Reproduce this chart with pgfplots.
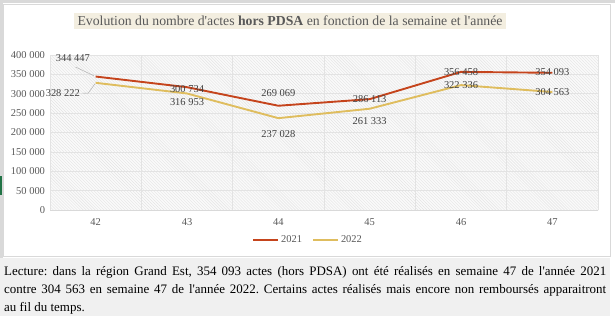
\documentclass[border=0pt]{standalone}
\usepackage{fontspec}
\setmainfont{Liberation Serif}[Ligatures=TeXOff]
\usepackage{pgfplots}
\pgfplotsset{compat=1.18}
\usetikzlibrary{patterns}
\definecolor{c21}{HTML}{C5441C}
\definecolor{c22}{HTML}{DFBD5E}
\definecolor{txt}{HTML}{595959}
\definecolor{lbltxt}{HTML}{404040}
\definecolor{beige}{HTML}{F3EEE0}
\definecolor{capbg}{HTML}{F0F0F0}
\definecolor{frame}{HTML}{D9D9D9}
\definecolor{xlgreen}{HTML}{217346}
\begin{document}
\frenchspacing
\begin{tikzpicture}
\begin{scope}[x=1bp,y=-1bp]
\fill[white] (0,0) rectangle (615,321);
\fill[frame] (0,0) rectangle (615,3);
\fill[frame] (0,0) rectangle (3,258);
\fill[capbg] (0,258) rectangle (610,316);
\draw[frame, line width=0.8bp] (3.5,4.5) rectangle (610,256);
\fill[xlgreen] (0,176) rectangle (2,195);
\node[fill=beige, text=txt, font=\fontsize{13.8}{15}\selectfont, inner xsep=4bp, inner ysep=3bp] at (290,21) {Evolution du nombre d'actes \textbf{hors PDSA} en fonction de la semaine et l'année};
\node[anchor=north west, text width=602bp, align=justify, inner sep=0pt, font=\fontsize{13}{18}\selectfont] at (4,266) {Lecture: dans la région Grand Est, 354 093 actes (hors PDSA) ont été réalisés en semaine 47 de l'année 2021\linebreak contre 304 563 en semaine 47 de l'année 2022. Certains actes réalisés mais encore non remboursés apparaitront\linebreak au fil du temps.};
\end{scope}
\begin{axis}[
  at={(50bp,-210bp)}, anchor=south west,
  scale only axis, width=548bp, height=155bp,
  xmin=-0.5, xmax=5.5, ymin=0, ymax=400000,
  xtick={0,1,2,3,4,5}, xticklabels={42,43,44,45,46,47},
  minor xtick={-0.5,0.5,1.5,2.5,3.5,4.5,5.5},
  ytick={0,50000,...,400000},
  ymajorgrids, xminorgrids,
  major grid style={draw=gray!22, line width=0.6bp},
  minor grid style={draw=gray!22, line width=0.6bp},
  axis x line=bottom, axis y line=left,
  axis line style={-},
  y axis line style={draw=none},
  x axis line style={draw=frame, line width=0.8bp},
  major tick length=0pt, minor tick length=0pt,
  tick label style={text=txt, font=\fontsize{10.5}{12}\selectfont},
  xticklabel style={yshift=-5bp},
  yticklabel style={xshift=-1.5bp},
  scaled y ticks=false,
  /pgf/number format/.cd, fixed, 1000 sep={\ }, assume math mode=true, /pgfplots/.cd,
  axis background/.style={fill=gray!4, postaction={pattern=north west lines, pattern color=gray!22}},
  clip=false,
  legend style={at={(0.471,-0.194)}, anchor=center, draw=none, fill=none,
    legend columns=2, font=\fontsize{10.5}{12}\selectfont, text=txt,
    /tikz/every even column/.append style={column sep=8bp}},
  legend image code/.code={\draw[#1] (0bp,0bp) -- (25bp,0bp);},
  every axis plot/.append style={line width=1.9bp},
]
\addplot[c21, no marks] coordinates {(0,344447) (1,316953) (2,269069) (3,286113) (4,356458) (5,354093)};
\addlegendentry{2021}
\addplot[c22, no marks] coordinates {(0,328222) (1,300734) (2,237028) (3,261333) (4,322336) (5,304563)};
\addlegendentry{2022}
\begin{scope}[every node/.style={text=lbltxt, font=\fontsize{10.5}{12}\selectfont, inner sep=1pt}]
\node at (axis cs:-0.25,392258) {344 447};
\node at (axis cs:-0.36,301935) {328 222};
\node at (axis cs:1,312258) {300 734};
\node at (axis cs:1,279500) {316 953};
\node at (axis cs:2,302710) {269 069};
\node at (axis cs:2,196129) {237 028};
\node at (axis cs:3,285677) {286 113};
\node at (axis cs:3,229677) {261 333};
\node at (axis cs:4,355355) {356 458};
\node at (axis cs:4,322581) {322 336};
\node at (axis cs:5,355355) {354 093};
\node at (axis cs:5,303742) {304 563};
\end{scope}
\draw[gray!60, line width=0.5bp] (axis cs:-0.22,369000) -- (axis cs:-0.02,346500);
\draw[gray!60, line width=0.5bp] (axis cs:-0.14,301935) -- (axis cs:-0.08,301935) -- (axis cs:-0.01,325000);
\end{axis}
\end{tikzpicture}
\end{document}
